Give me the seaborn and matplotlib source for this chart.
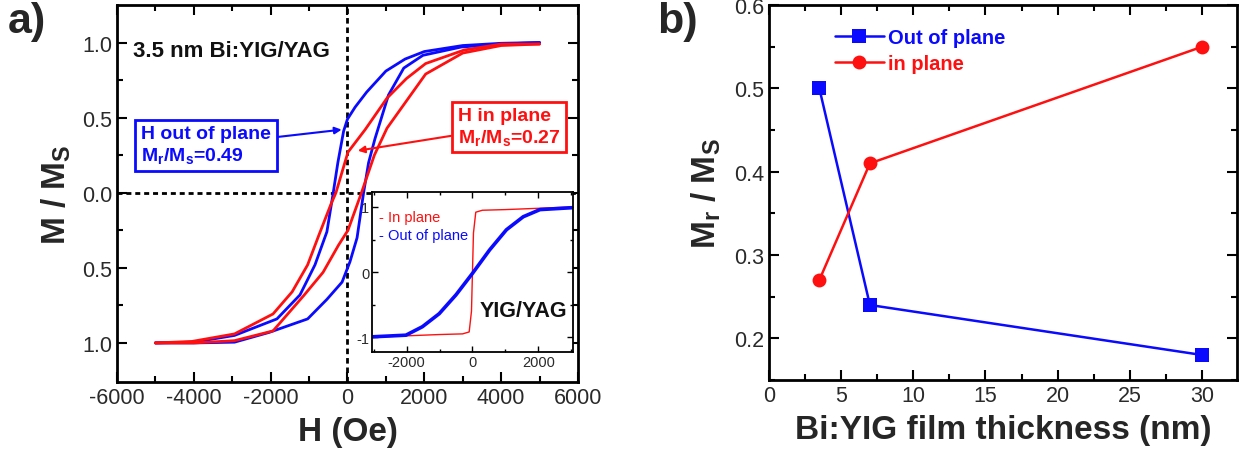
import numpy as np
import pandas as pd
import matplotlib
matplotlib.use("Agg")
import matplotlib.pyplot as plt
import seaborn as sns

# ---- data ----
# 3.5 nm Bi:YIG/YAG loops, H in Oe, M/Ms
out_down_H = [5000, 4000, 3000, 2000, 1500, 1000, 500, 200, 0, -100, -250, -370, -535, -845, -1235, -1835, -2940, -4000, -5000]
out_down_M = [1.0, 0.995, 0.98, 0.94, 0.89, 0.81, 0.67, 0.57, 0.49, 0.41, 0.2, 0.0, -0.26, -0.48, -0.68, -0.84, -0.95, -0.995, -1.0]
out_up_H = [-5000, -4000, -2940, -2040, -1036, -535, -140, 65, 250, 420, 550, 717, 1067, 1466, 1965, 2960, 4000, 5000]
out_up_M = [-1.0, -1.0, -0.995, -0.93, -0.84, -0.71, -0.595, -0.46, -0.3, 0.0, 0.2, 0.36, 0.65, 0.83, 0.915, 0.97, 0.99, 1.0]

in_down_H = [5000, 4000, 3035, 2035, 1535, 1030, 460, 13, -300, -435, -740, -1036, -1440, -1937, -2940, -4045, -5000]
in_down_M = [0.99, 0.99, 0.95, 0.86, 0.76, 0.63, 0.42, 0.27, 0.0, -0.08, -0.28, -0.48, -0.66, -0.807, -0.94, -0.99, -1.0]
in_up_H = [-5000, -4000, -2940, -1937, -1135, -635, -235, 13, 365, 700, 1030, 2035, 3000, 4000, 5000]
in_up_M = [-1.0, -1.0, -0.985, -0.92, -0.684, -0.53, -0.35, -0.25, 0.0, 0.25, 0.43, 0.79, 0.93, 0.98, 0.99]

# inset: YIG/YAG reference
yig_in_H = [-3000, -2000, -1000, -300, -100, -30, 0, 30, 100, 300, 1000, 2000, 3000]
yig_in_M = [-1.0, -0.98, -0.96, -0.95, -0.92, -0.6, 0.0, 0.6, 0.92, 0.95, 0.96, 0.98, 1.0]
yig_out_H = [-3040, -2020, -1520, -1010, -500, 0, 520, 1030, 1540, 2050, 3050]
yig_out_M = [-0.995, -0.97, -0.84, -0.64, -0.35, -0.02, 0.34, 0.65, 0.85, 0.96, 0.99]

# panel b
thickness = [3.5, 7, 30]
mr_out = [0.5, 0.24, 0.18]
mr_in = [0.27, 0.41, 0.55]

h_ticks = [-6000, -4000, -2000, 0, 2000, 4000, 6000]
m_ticks = [-1.0, -0.5, 0.0, 0.5, 1.0]
m_tick_labels = ["1.0", "0.5", "0.0", "0.5", "1.0"]

sns.set_style("ticks")
plt.rcParams["font.family"] = ["Liberation Sans", "DejaVu Sans"]
plt.rcParams["axes.unicode_minus"] = False
plt.rcParams["mathtext.fontset"] = "custom"
plt.rcParams["mathtext.rm"] = "Liberation Sans:bold"
plt.rcParams["mathtext.it"] = "Liberation Sans:bold"
plt.rcParams["mathtext.bf"] = "Liberation Sans:bold"

BLUE = "#0a0aff"
RED = "#ff1010"
TICKC = "#2a2a2a"

fig = plt.figure(figsize=(12.44, 4.64), dpi=100)
ax1 = fig.add_axes([0.094, 0.1746, 0.3706, 0.8125])
ax2 = fig.add_axes([0.618, 0.1789, 0.3762, 0.808])


def style_axes(ax, lw=2.0, labsize=15.5, maj=7, mino=4):
    for s in ax.spines.values():
        s.set_linewidth(lw)
        s.set_color("black")
    ax.tick_params(which="both", direction="in", top=True, right=True,
                   width=1.5, colors="black", labelcolor=TICKC, labelsize=labsize)
    ax.tick_params(which="major", length=maj)
    ax.tick_params(which="minor", length=mino)


# ---- panel a ----
loops = pd.concat([
    pd.DataFrame({"H": out_down_H, "M": out_down_M, "field": "out", "branch": "out_down"}),
    pd.DataFrame({"H": out_up_H, "M": out_up_M, "field": "out", "branch": "out_up"}),
    pd.DataFrame({"H": in_down_H, "M": in_down_M, "field": "in", "branch": "in_down"}),
    pd.DataFrame({"H": in_up_H, "M": in_up_M, "field": "in", "branch": "in_up"}),
])
ax1.axvline(0, color="black", lw=2, ls=(0, (2.0, 1.4)), zorder=1)
ax1.axhline(0, color="black", lw=2, ls=(0, (1.8, 1.4)), zorder=1)
sns.lineplot(data=loops, x="H", y="M", hue="field", units="branch", estimator=None,
             sort=False, palette={"out": BLUE, "in": RED}, lw=2.0, legend=False, ax=ax1, zorder=3)
ax1.set_xlim(-6000, 6000)
ax1.set_ylim(-1.26, 1.25)
ax1.set_xticks(h_ticks)
ax1.set_xticks(np.arange(-5000, 6000, 2000), minor=True)
ax1.set_yticks(m_ticks, labels=m_tick_labels)
ax1.set_yticks([-0.75, -0.25, 0.25, 0.75], minor=True)
style_axes(ax1)
ax1.set_xlabel("H (Oe)", fontsize=24, fontweight="bold", labelpad=6)
ax1.set_ylabel("M / M$_\\mathrm{S}$", fontsize=24, fontweight="bold", labelpad=6)

ax1.text(-5584, 0.947, "3.5 nm Bi:YIG/YAG", fontsize=16, fontweight="bold",
         ha="left", va="center", color="#111111")
ax1.annotate("H out of plane\nM$_\\mathrm{r}$/M$_\\mathrm{s}$=0.49", xy=(-150, 0.42), xytext=(-3683, 0.317),
             fontsize=14, fontweight="bold", color=BLUE, ha="center", va="center", multialignment="left",
             bbox=dict(boxstyle="square,pad=0.3", fc="white", ec=BLUE, lw=2),
             arrowprops=dict(arrowstyle="-|>", color=BLUE, lw=1.5, shrinkA=0, shrinkB=0,
                             mutation_scale=10), zorder=5)
ax1.annotate("H in plane\nM$_\\mathrm{r}$/M$_\\mathrm{s}$=0.27", xy=(270, 0.28), xytext=(4204, 0.44),
             fontsize=14, fontweight="bold", color=RED, ha="center", va="center", multialignment="left",
             bbox=dict(boxstyle="square,pad=0.3", fc="white", ec=RED, lw=2),
             arrowprops=dict(arrowstyle="-|>", color=RED, lw=1.5, shrinkA=0, shrinkB=0,
                             mutation_scale=10), zorder=5)

# inset
axi = fig.add_axes([0.299, 0.239, 0.1616, 0.345])
axi.set_facecolor("white")
sns.lineplot(x=yig_in_H, y=yig_in_M, color=RED, lw=1.0, sort=False, estimator=None, ax=axi)
sns.lineplot(x=yig_out_H, y=yig_out_M, color=BLUE, lw=2.6, sort=False, estimator=None, ax=axi)
axi.set_xlim(-3050, 3050)
axi.set_ylim(-1.23, 1.23)
axi.set_xticks([-2000, 0, 2000])
axi.set_xticks([-3000, -1000, 1000, 3000], minor=True)
axi.set_yticks([-1, 0, 1])
axi.set_yticks([-0.5, 0.5], minor=True)
style_axes(axi, lw=1.3, labsize=10.5, maj=4, mino=2.5)
axi.tick_params(which="both", width=1.0, pad=2)
axi.text(-2840, 0.85, "- In plane", color=RED, fontsize=10.5, ha="left", va="center")
axi.text(-2840, 0.57, "- Out of plane", color=BLUE, fontsize=10.5, ha="left", va="center")
axi.text(214, -0.585, "YIG/YAG", fontsize=15.5, fontweight="bold", ha="left", va="center", color="#111111")

# ---- panel b ----
mr = pd.DataFrame({
    "t": thickness * 2,
    "r": mr_out + mr_in,
    "orient": ["Out of plane"] * 3 + ["in plane"] * 3,
})
sns.lineplot(data=mr, x="t", y="r", hue="orient", style="orient",
             palette={"Out of plane": BLUE, "in plane": RED},
             markers={"Out of plane": "s", "in plane": "o"}, dashes=False,
             markersize=10, markeredgewidth=0, lw=1.8, ax=ax2)
ax2.set_xlim(0, 32.4)
ax2.set_ylim(0.15, 0.6)
ax2.set_xticks(np.arange(0, 31, 5))
ax2.set_xticks(np.arange(2.5, 31, 5), minor=True)
ax2.set_yticks([0.2, 0.3, 0.4, 0.5, 0.6])
ax2.set_yticks([0.15, 0.25, 0.35, 0.45, 0.55], minor=True)
style_axes(ax2)
ax2.set_xlabel("Bi:YIG film thickness (nm)", fontsize=24, fontweight="bold", labelpad=6)
ax2.set_ylabel("M$_\\mathrm{r}$ / M$_\\mathrm{S}$", fontsize=24, fontweight="bold", labelpad=8)
h, l = ax2.get_legend_handles_labels()
ax2.legend(h, l, loc="upper left", bbox_to_anchor=(0.142, 0.94), frameon=False,
           prop={"weight": "bold", "size": 14.5}, labelcolor="linecolor",
           handlelength=2.4, handletextpad=0.2, labelspacing=0.35, borderpad=0, borderaxespad=0)

fig.text(0.006, 0.995, "a)", fontsize=31, fontweight="bold", va="top", ha="left")
fig.text(0.528, 0.995, "b)", fontsize=31, fontweight="bold", va="top", ha="left")

fig.savefig("out.png", dpi=100)
